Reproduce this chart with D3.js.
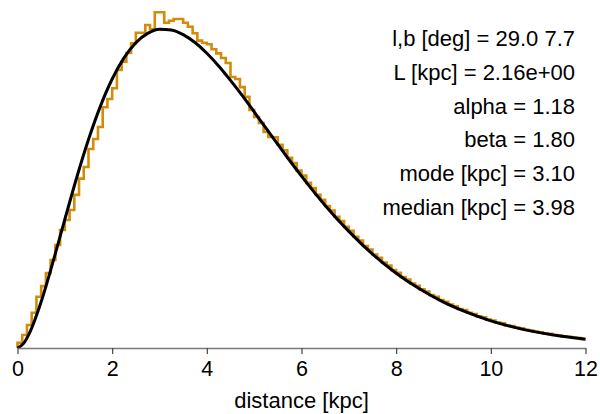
<!DOCTYPE html>
<html>
<head>
<meta charset="utf-8">
<script src="https://cdn.jsdelivr.net/npm/d3@7"></script>
<style>
  body { margin: 0; background: #fff; }
  svg { display: block; font-family: "Liberation Sans", Arial, Helvetica, sans-serif; }
</style>
</head>
<body>
<div id="viz"></div>
<script>
// histogram of sampled distances, bins of 0.1 kpc starting at 0
const binWidth = 0.1;
const histValues = [
  0.0030, 0.0076, 0.0134, 0.0205, 0.0298, 0.0360, 0.0436, 0.0512, 0.0599, 0.0686,
  0.0744, 0.0802, 0.0890, 0.0985, 0.1052, 0.1157, 0.1215, 0.1285, 0.1400, 0.1448,
  0.1510, 0.1616, 0.1665, 0.1715, 0.1771, 0.1833, 0.1833, 0.1878, 0.1853, 0.1952,
  0.1952, 0.1891, 0.1903, 0.1913, 0.1913, 0.1891, 0.1868, 0.1830, 0.1787, 0.1775,
  0.1766, 0.1737, 0.1713, 0.1686, 0.1657, 0.1576, 0.1564, 0.1517, 0.1460, 0.1384,
  0.1343, 0.1308, 0.1256, 0.1227, 0.1225, 0.1182, 0.1150, 0.1106, 0.1075, 0.1032,
  0.1002, 0.0960, 0.0930, 0.0890, 0.0862, 0.0826, 0.0799, 0.0763, 0.0738, 0.0704,
  0.0681, 0.0647, 0.0625, 0.0593, 0.0573, 0.0544, 0.0525, 0.0497, 0.0479, 0.0453,
  0.0437, 0.0413, 0.0398, 0.0375, 0.0362, 0.0341, 0.0328, 0.0308, 0.0297, 0.0279,
  0.0269, 0.0252, 0.0243, 0.0227, 0.0220, 0.0205, 0.0198, 0.0184, 0.0178, 0.0165,
  0.0160, 0.0148, 0.0144, 0.0131, 0.0128, 0.0119, 0.0114, 0.0106, 0.0102, 0.0095,
  0.0092, 0.0085, 0.0082, 0.0076, 0.0073, 0.0067, 0.0065, 0.0060, 0.0058, 0.0053
];

// prior curve
const curveX = [0, 0.125, 0.25, 0.5, 0.75, 1, 1.25, 1.5, 1.75, 2, 2.25, 2.5, 2.75, 3,
  3.25, 3.5, 3.75, 4, 4.25, 4.5, 4.75, 5, 5.25, 5.5, 5.75, 6, 6.5, 7, 7.5, 8, 8.5,
  9, 9.5, 10, 10.5, 11, 11.5, 12];
const curveY = [0, 0.00256, 0.00854, 0.0269, 0.05005, 0.07479, 0.0990, 0.1212, 0.1405,
  0.1564, 0.1687, 0.1775, 0.1829, 0.1853, 0.1849, 0.1822, 0.1776, 0.1714, 0.1640,
  0.1556, 0.1467, 0.1373, 0.1278, 0.1184, 0.1090, 0.0999, 0.0829, 0.0678, 0.0546,
  0.0435, 0.0343, 0.0267, 0.0207, 0.0158, 0.0120, 0.00909, 0.00682, 0.00508];

const xTicks = [0, 2, 4, 6, 8, 10, 12];
const infoLines = [
  'l,b [deg] = 29.0 7.7',
  'L [kpc] = 2.16e+00',
  'alpha = 1.18',
  'beta = 1.80',
  'mode [kpc] = 3.10',
  'median [kpc] = 3.98'
];

const width = 600, height = 414;
const x = d3.scaleLinear().domain([0, 12]).range([17.5, 585.5]);
const y = d3.scaleLinear().domain([0, 0.2]).range([348, 4]);

const svg = d3.select('#viz').append('svg')
  .attr('width', width)
  .attr('height', height);

// histogram as a step outline
const histPoints = [[0, 0]].concat(histValues.map((v, i) => [i * binWidth, v]));
histPoints.push([histValues.length * binWidth, histValues[histValues.length - 1]]);

svg.append('path')
  .datum(histPoints)
  .attr('fill', 'none')
  .attr('stroke', '#d38c0a')
  .attr('stroke-width', 2.6)
  .attr('d', d3.line()
    .x(d => x(d[0]))
    .y(d => y(d[1]))
    .curve(d3.curveStepAfter));

svg.append('path')
  .datum(curveX.map((v, i) => [v, curveY[i]]))
  .attr('fill', 'none')
  .attr('stroke', '#000')
  .attr('stroke-width', 3)
  .attr('d', d3.line()
    .x(d => x(d[0]))
    .y(d => y(d[1]))
    .curve(d3.curveMonotoneX));

// x axis
const xAxis = svg.append('g')
  .attr('transform', 'translate(0,348)')
  .call(d3.axisBottom(x).tickValues(xTicks).tickSize(6).tickSizeOuter(0).tickFormat(d3.format('d')));
xAxis.select('.domain').attr('stroke', '#7a7a7a').attr('stroke-width', 1.6);
xAxis.selectAll('.tick line').attr('stroke', '#444').attr('stroke-width', 1.2);
xAxis.selectAll('.tick text')
  .attr('y', 28)
  .attr('dy', null)
  .attr('fill', '#000')
  .style('font-size', '21.5px');

svg.append('text')
  .attr('x', (x(0) + x(12)) / 2)
  .attr('y', 408)
  .attr('text-anchor', 'middle')
  .style('font-size', '22px')
  .text('distance [kpc]');

// parameter text
svg.append('g')
  .selectAll('text')
  .data(infoLines)
  .enter().append('text')
  .attr('x', 575)
  .attr('y', (d, i) => 46 + i * 33.8)
  .attr('text-anchor', 'end')
  .style('font-size', '22px')
  .text(d => d);
</script>
</body>
</html>
